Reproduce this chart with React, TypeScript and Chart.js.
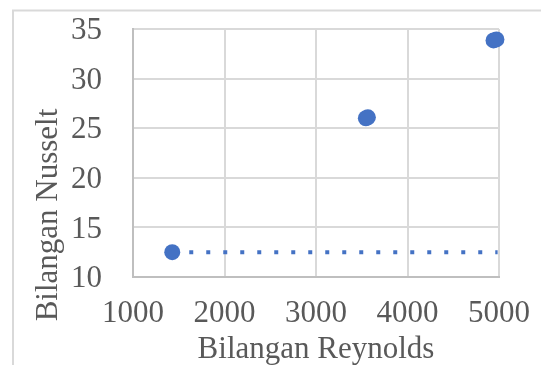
import React, { useEffect, useRef } from "react";
import { Chart, registerables } from "chart.js";

Chart.register(...registerables);

// Data
const reynolds = [1429, 3545, 3567, 4940, 4972];
const nusselt = [12.5, 26.0, 26.1, 33.85, 33.95];
const trendX = [1429, 4985];
const trendY = [12.5, 12.5];
const xTitle = "Bilangan Reynolds";
const yTitle = "Bilangan Nusselt";

const TEXT = "#595959";
const FONT = "'Liberation Serif', 'Times New Roman', serif";

export default function App() {
  const ref = useRef<HTMLCanvasElement | null>(null);

  useEffect(() => {
    if (!ref.current) return;
    const titles = {
      id: "titlesAndFrame",
      beforeDraw(chart: any) {
        const ctx = chart.ctx;
        ctx.save();
        ctx.strokeStyle = "#d9d9d9";
        ctx.lineWidth = 2;
        ctx.strokeRect(13, 10.5, 2000, 2000);
        ctx.restore();
      },
      afterDraw(chart: any) {
        const ctx = chart.ctx;
        const ca = chart.chartArea;
        ctx.save();
        ctx.fillStyle = TEXT;
        ctx.font = `31px ${FONT}`;
        ctx.textAlign = "center";
        ctx.textBaseline = "middle";
        ctx.fillText(xTitle, (ca.left + ca.right) / 2, 350);
        ctx.translate(49, 215);
        ctx.rotate(-Math.PI / 2);
        ctx.fillText(yTitle, 0, 0);
        ctx.restore();
      },
    };

    const chart = new Chart(ref.current, {
      type: "scatter",
      data: {
        datasets: [
          {
            label: "Nu",
            data: reynolds.map((x, i) => ({ x, y: nusselt[i] })),
            backgroundColor: "#4472C4",
            borderColor: "#4472C4",
            borderWidth: 0,
            pointRadius: 8,
            clip: false,
            order: 0,
          },
          {
            label: "trend",
            data: trendX.map((x, i) => ({ x, y: trendY[i] })),
            showLine: true,
            borderColor: "#4472C4",
            borderWidth: 4,
            borderDash: [4, 13],
            borderCapStyle: "butt",
            pointRadius: 0,
            clip: false,
            order: 1,
          },
        ],
      },
      plugins: [titles],
      options: {
        animation: false,
        responsive: false,
        layout: { padding: { left: 0, top: 29, right: 42, bottom: 0 } },
        plugins: { legend: { display: false }, tooltip: { enabled: false } },
        scales: {
          x: {
            type: "linear",
            min: 1000,
            max: 5000,
            afterFit: (s: any) => {
              s.height = 88;
            },
            ticks: {
              stepSize: 1000,
              color: TEXT,
              padding: 0,
              font: { family: FONT, size: 31 },
              callback: (v: any) => String(v),
            },
            grid: {
              color: "#d9d9d9",
              lineWidth: 2,
              drawTicks: true,
              tickLength: 18,
              tickColor: "rgba(0,0,0,0)",
            },
            border: { color: "#bfbfbf", width: 2 },
          },
          y: {
            type: "linear",
            min: 10,
            max: 35,
            afterFit: (s: any) => {
              s.width = 133;
            },
            ticks: {
              stepSize: 5,
              color: TEXT,
              padding: 0,
              labelOffset: 2,
              font: { family: FONT, size: 31 },
              callback: (v: any) => String(v),
            },
            grid: {
              color: "#d9d9d9",
              lineWidth: 2,
              drawTicks: true,
              tickLength: 31,
              tickColor: "rgba(0,0,0,0)",
            },
            border: { color: "#bfbfbf", width: 2 },
          },
        },
      },
    });
    return () => chart.destroy();
  }, []);

  return (
    <div style={{ position: "fixed", left: 0, top: 0, width: 541, height: 365, background: "#fff" }}>
      <canvas ref={ref} width={541} height={365} style={{ display: "block" }} />
    </div>
  );
}
